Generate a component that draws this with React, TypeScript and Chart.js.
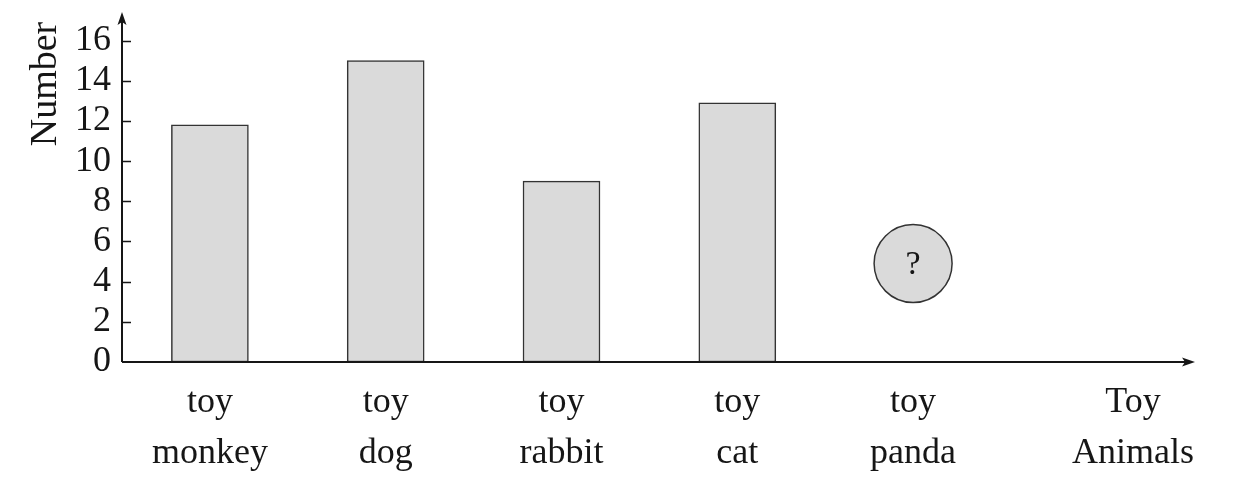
import React, { useEffect, useRef } from 'react';
import { Chart, registerables } from 'chart.js';

Chart.register(...registerables);

// ---- data ----
const categories: string[][] = [
  ['toy', 'monkey'],
  ['toy', 'dog'],
  ['toy', 'rabbit'],
  ['toy', 'cat'],
  ['toy', 'panda'],
];
const barValues: (number | null)[] = [11.8, 15, 9, 12.9, null];
const unknownValues: (number | null)[] = [null, null, null, null, 4.9];
const unknownMark = '?';
const yMin = 0;
const yMax = 16;
const yStep = 2;
const yTitle = 'Number';
const xTitle: string[] = ['Toy', 'Animals'];

const FONT = "'Liberation Serif', 'Times New Roman', serif";
const INK = '#161616';
const FILL = '#dadada';
const X_PAD = 15;
const X_LH = 1.42;

const decorPlugin = {
  id: 'decor',
  afterDraw(chart: any) {
    const { ctx, chartArea, scales } = chart;
    const x = scales.x;
    const y = scales.y;
    const left = chartArea.left;
    const bottom = chartArea.bottom;
    const xEnd = 1195;
    const yEnd = 12;
    ctx.save();
    ctx.strokeStyle = INK;
    ctx.fillStyle = INK;
    ctx.lineWidth = 2;
    // y axis
    ctx.beginPath();
    ctx.moveTo(left, bottom);
    ctx.lineTo(left, yEnd + 6);
    ctx.stroke();
    ctx.beginPath();
    ctx.moveTo(left, yEnd);
    ctx.lineTo(left - 4.5, yEnd + 13);
    ctx.lineTo(left, yEnd + 10);
    ctx.lineTo(left + 4.5, yEnd + 13);
    ctx.closePath();
    ctx.fill();
    // x axis
    ctx.beginPath();
    ctx.moveTo(left, bottom);
    ctx.lineTo(xEnd - 6, bottom);
    ctx.stroke();
    ctx.beginPath();
    ctx.moveTo(xEnd, bottom);
    ctx.lineTo(xEnd - 13, bottom - 4.5);
    ctx.lineTo(xEnd - 10, bottom);
    ctx.lineTo(xEnd - 13, bottom + 4.5);
    ctx.closePath();
    ctx.fill();
    // inward y ticks
    ctx.lineWidth = 1.5;
    y.ticks.forEach((t: any) => {
      if (t.value === yMin) return;
      const py = Math.round(y.getPixelForValue(t.value)) + 0.5;
      ctx.beginPath();
      ctx.moveTo(left, py);
      ctx.lineTo(left + 9, py);
      ctx.stroke();
    });
    // "?" inside the unknown point
    const meta = chart.getDatasetMeta(1);
    meta.data.forEach((el: any, i: number) => {
      if (unknownValues[i] == null) return;
      ctx.font = `34px ${FONT}`;
      ctx.textAlign = 'center';
      ctx.textBaseline = 'middle';
      ctx.fillText(unknownMark, el.x, el.y + 2);
    });
    // x axis name
    ctx.font = `36px ${FONT}`;
    ctx.textAlign = 'center';
    ctx.textBaseline = 'middle';
    const lh = 36 * X_LH;
    xTitle.forEach((line, k) => {
      ctx.fillText(line, 1133, x.top + X_PAD + lh * (k + 0.5));
    });
    // y axis title
    ctx.save();
    ctx.translate(46, 84);
    ctx.rotate(-Math.PI / 2);
    ctx.font = `38px ${FONT}`;
    ctx.textAlign = 'center';
    ctx.textBaseline = 'middle';
    ctx.fillText(yTitle, 0, 0);
    ctx.restore();
    ctx.restore();
  },
};

export default function App() {
  const ref = useRef<HTMLCanvasElement | null>(null);
  useEffect(() => {
    if (!ref.current) return;
    const chart = new Chart(ref.current, {
      type: 'bar',
      data: {
        labels: categories,
        datasets: [
          {
            type: 'bar',
            data: barValues,
            backgroundColor: FILL,
            borderColor: '#333',
            borderWidth: 1.5,
            borderSkipped: false,
            barThickness: 77,
          } as any,
          {
            type: 'line',
            data: unknownValues,
            showLine: false,
            pointRadius: 39,
            pointBackgroundColor: FILL,
            pointBorderColor: '#333',
            pointBorderWidth: 1.5,
          } as any,
        ],
      },
      options: {
        animation: false,
        responsive: false,
        layout: { padding: { left: 64, top: 36, right: 237, bottom: 0 } },
        plugins: { legend: { display: false }, tooltip: { enabled: false } },
        scales: {
          x: {
            grid: { display: false, drawTicks: false },
            border: { display: false },
            afterFit: (s: any) => {
              s.height = 122;
            },
            ticks: {
              color: INK,
              font: { family: FONT, size: 36, lineHeight: X_LH },
              padding: X_PAD,
              maxRotation: 0,
              autoSkip: false,
            },
          },
          y: {
            min: yMin,
            max: yMax,
            grid: { display: false, drawTicks: false },
            border: { display: false },
            ticks: {
              stepSize: yStep,
              autoSkip: false,
              color: INK,
              font: { family: FONT, size: 36 },
              padding: 11,
            },
          },
        },
      },
      plugins: [decorPlugin],
    });
    return () => chart.destroy();
  }, []);
  return (
    <div style={{ position: 'fixed', left: 0, top: 0, width: 1238, height: 484, background: '#fff' }}>
      <canvas ref={ref} width={1238} height={484} />
    </div>
  );
}
